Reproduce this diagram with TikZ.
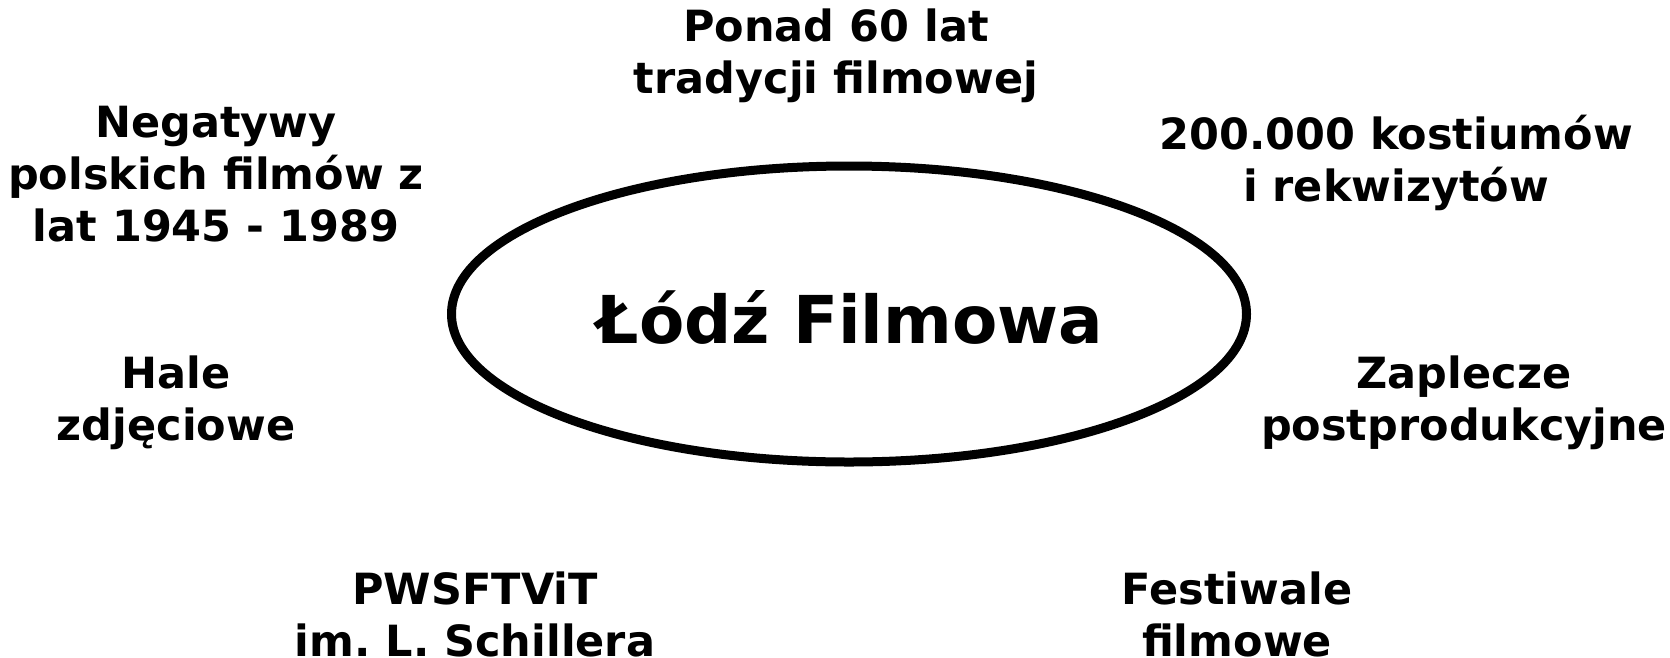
\documentclass[tikz,border=0pt]{standalone}
\usepackage{fontspec}
\setmainfont{DejaVu Sans}
\usetikzlibrary{shapes.geometric}
\frenchspacing
\begin{document}
\begin{tikzpicture}[x=1pt,y=-1pt,
  lbl/.style={font=\bfseries\fontsize{43}{52}\selectfont,align=center,inner sep=0pt}]
\useasboundingbox (0,0) rectangle (1670,657);
\node[draw,line width=9pt,ellipse,minimum width=795pt,minimum height=296pt,inner sep=0pt] (e) at (849,314) {};
\node[font=\bfseries\fontsize{66}{78}\selectfont,inner sep=0pt] (t) at (850,317) {Łódź Filmowa};
\node[lbl] (a) at (836,56) {Ponad 60 lat\\tradycji filmowej};
\node[lbl] (b) at (216,174) {Negatywy\\polskich filmów z\\lat 1945 - 1989};
\node[lbl] (c) at (1396,163) {200.000 kostiumów\\i rekwizytów};
\node[lbl] (d) at (176,403) {Hale\\zdjęciowe};
\node[lbl] (f) at (1464,403) {Zaplecze\\postprodukcyjne};
\node[lbl] (g) at (475,614) {PWSFTViT\\im. L. Schillera};
\node[lbl] (h) at (1237,614) {Festiwale\\filmowe};
\end{tikzpicture}
\end{document}
